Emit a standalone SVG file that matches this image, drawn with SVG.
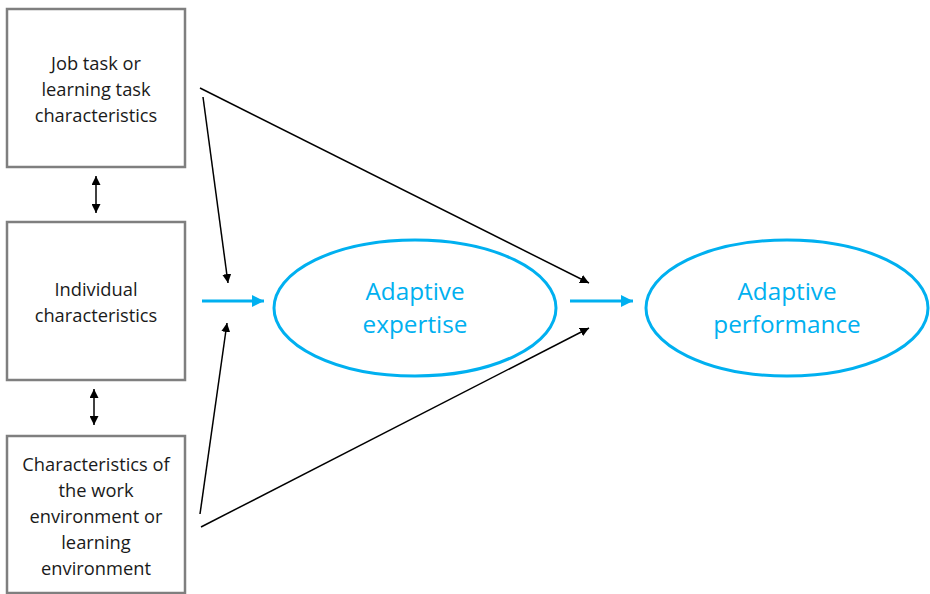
<svg xmlns="http://www.w3.org/2000/svg" width="930" height="594" viewBox="0 0 930 594">
<defs>
<style>
.box{fill:#fff;stroke:#7f7f7f;stroke-width:2.5}
.bt{font-family:"Open Sans","Liberation Sans",sans-serif;font-size:18.3px;fill:#1a1a1a;text-anchor:middle}
.ell{fill:#fff;stroke:#00b0f0;stroke-width:3}
.et{font-family:"Open Sans","Liberation Sans",sans-serif;font-size:24.3px;fill:#00b0f0;text-anchor:middle}
.bl{stroke:#000;stroke-width:1.5;fill:none}
.blue{stroke:#00b0f0;stroke-width:3;fill:none}
</style>
<marker id="ah" viewBox="0 0 10 10" refX="10" refY="5" markerWidth="9" markerHeight="9" markerUnits="userSpaceOnUse" orient="auto-start-reverse"><path d="M0,0 L10,5 L0,10 z" fill="#000"/></marker>
<marker id="ahb" viewBox="0 0 10 10" refX="10" refY="5" markerWidth="4" markerHeight="4" orient="auto"><path d="M0,0 L10,5 L0,10 z" fill="#00b0f0"/></marker>
</defs>
<rect width="930" height="594" fill="#fff"/>
<g id="node-job">
<rect class="box" x="7" y="9" width="178" height="158"/>
<text class="bt" x="96" y="70">Job task or</text>
<text class="bt" x="96" y="96">learning task</text>
<text class="bt" x="96" y="122">characteristics</text>
</g>
<g id="node-individual">
<rect class="box" x="7" y="222" width="178" height="158"/>
<text class="bt" x="96" y="296">Individual</text>
<text class="bt" x="96" y="322">characteristics</text>
</g>
<g id="node-environment">
<rect class="box" x="7" y="436" width="178" height="157"/>
<text class="bt" x="96" y="471">Characteristics of</text>
<text class="bt" x="96" y="497">the work</text>
<text class="bt" x="96" y="523">environment or</text>
<text class="bt" x="96" y="549">learning</text>
<text class="bt" x="96" y="575">environment</text>
</g>
<g id="node-expertise">
<ellipse class="ell" cx="415" cy="308" rx="141" ry="68"/>
<text class="et" x="415" y="300">Adaptive</text>
<text class="et" x="415" y="333">expertise</text>
</g>
<g id="node-performance">
<ellipse class="ell" cx="787" cy="308" rx="141" ry="68"/>
<text class="et" x="787" y="300">Adaptive</text>
<text class="et" x="787" y="333">performance</text>
</g>
<g id="connectors">
<line class="bl" x1="96" y1="176" x2="96" y2="213" marker-start="url(#ah)" marker-end="url(#ah)"/>
<line class="bl" x1="94" y1="389" x2="94" y2="425" marker-start="url(#ah)" marker-end="url(#ah)"/>
<line class="bl" x1="200" y1="88" x2="589" y2="283" marker-end="url(#ah)"/>
<line class="bl" x1="203" y1="97" x2="228" y2="283" marker-end="url(#ah)"/>
<line class="bl" x1="200" y1="514" x2="227" y2="323" marker-end="url(#ah)"/>
<line class="bl" x1="201" y1="527" x2="589" y2="328" marker-end="url(#ah)"/>
<line class="blue" x1="202" y1="301" x2="264" y2="301" marker-end="url(#ahb)"/>
<line class="blue" x1="570" y1="301" x2="633" y2="301" marker-end="url(#ahb)"/>
</g>
</svg>
